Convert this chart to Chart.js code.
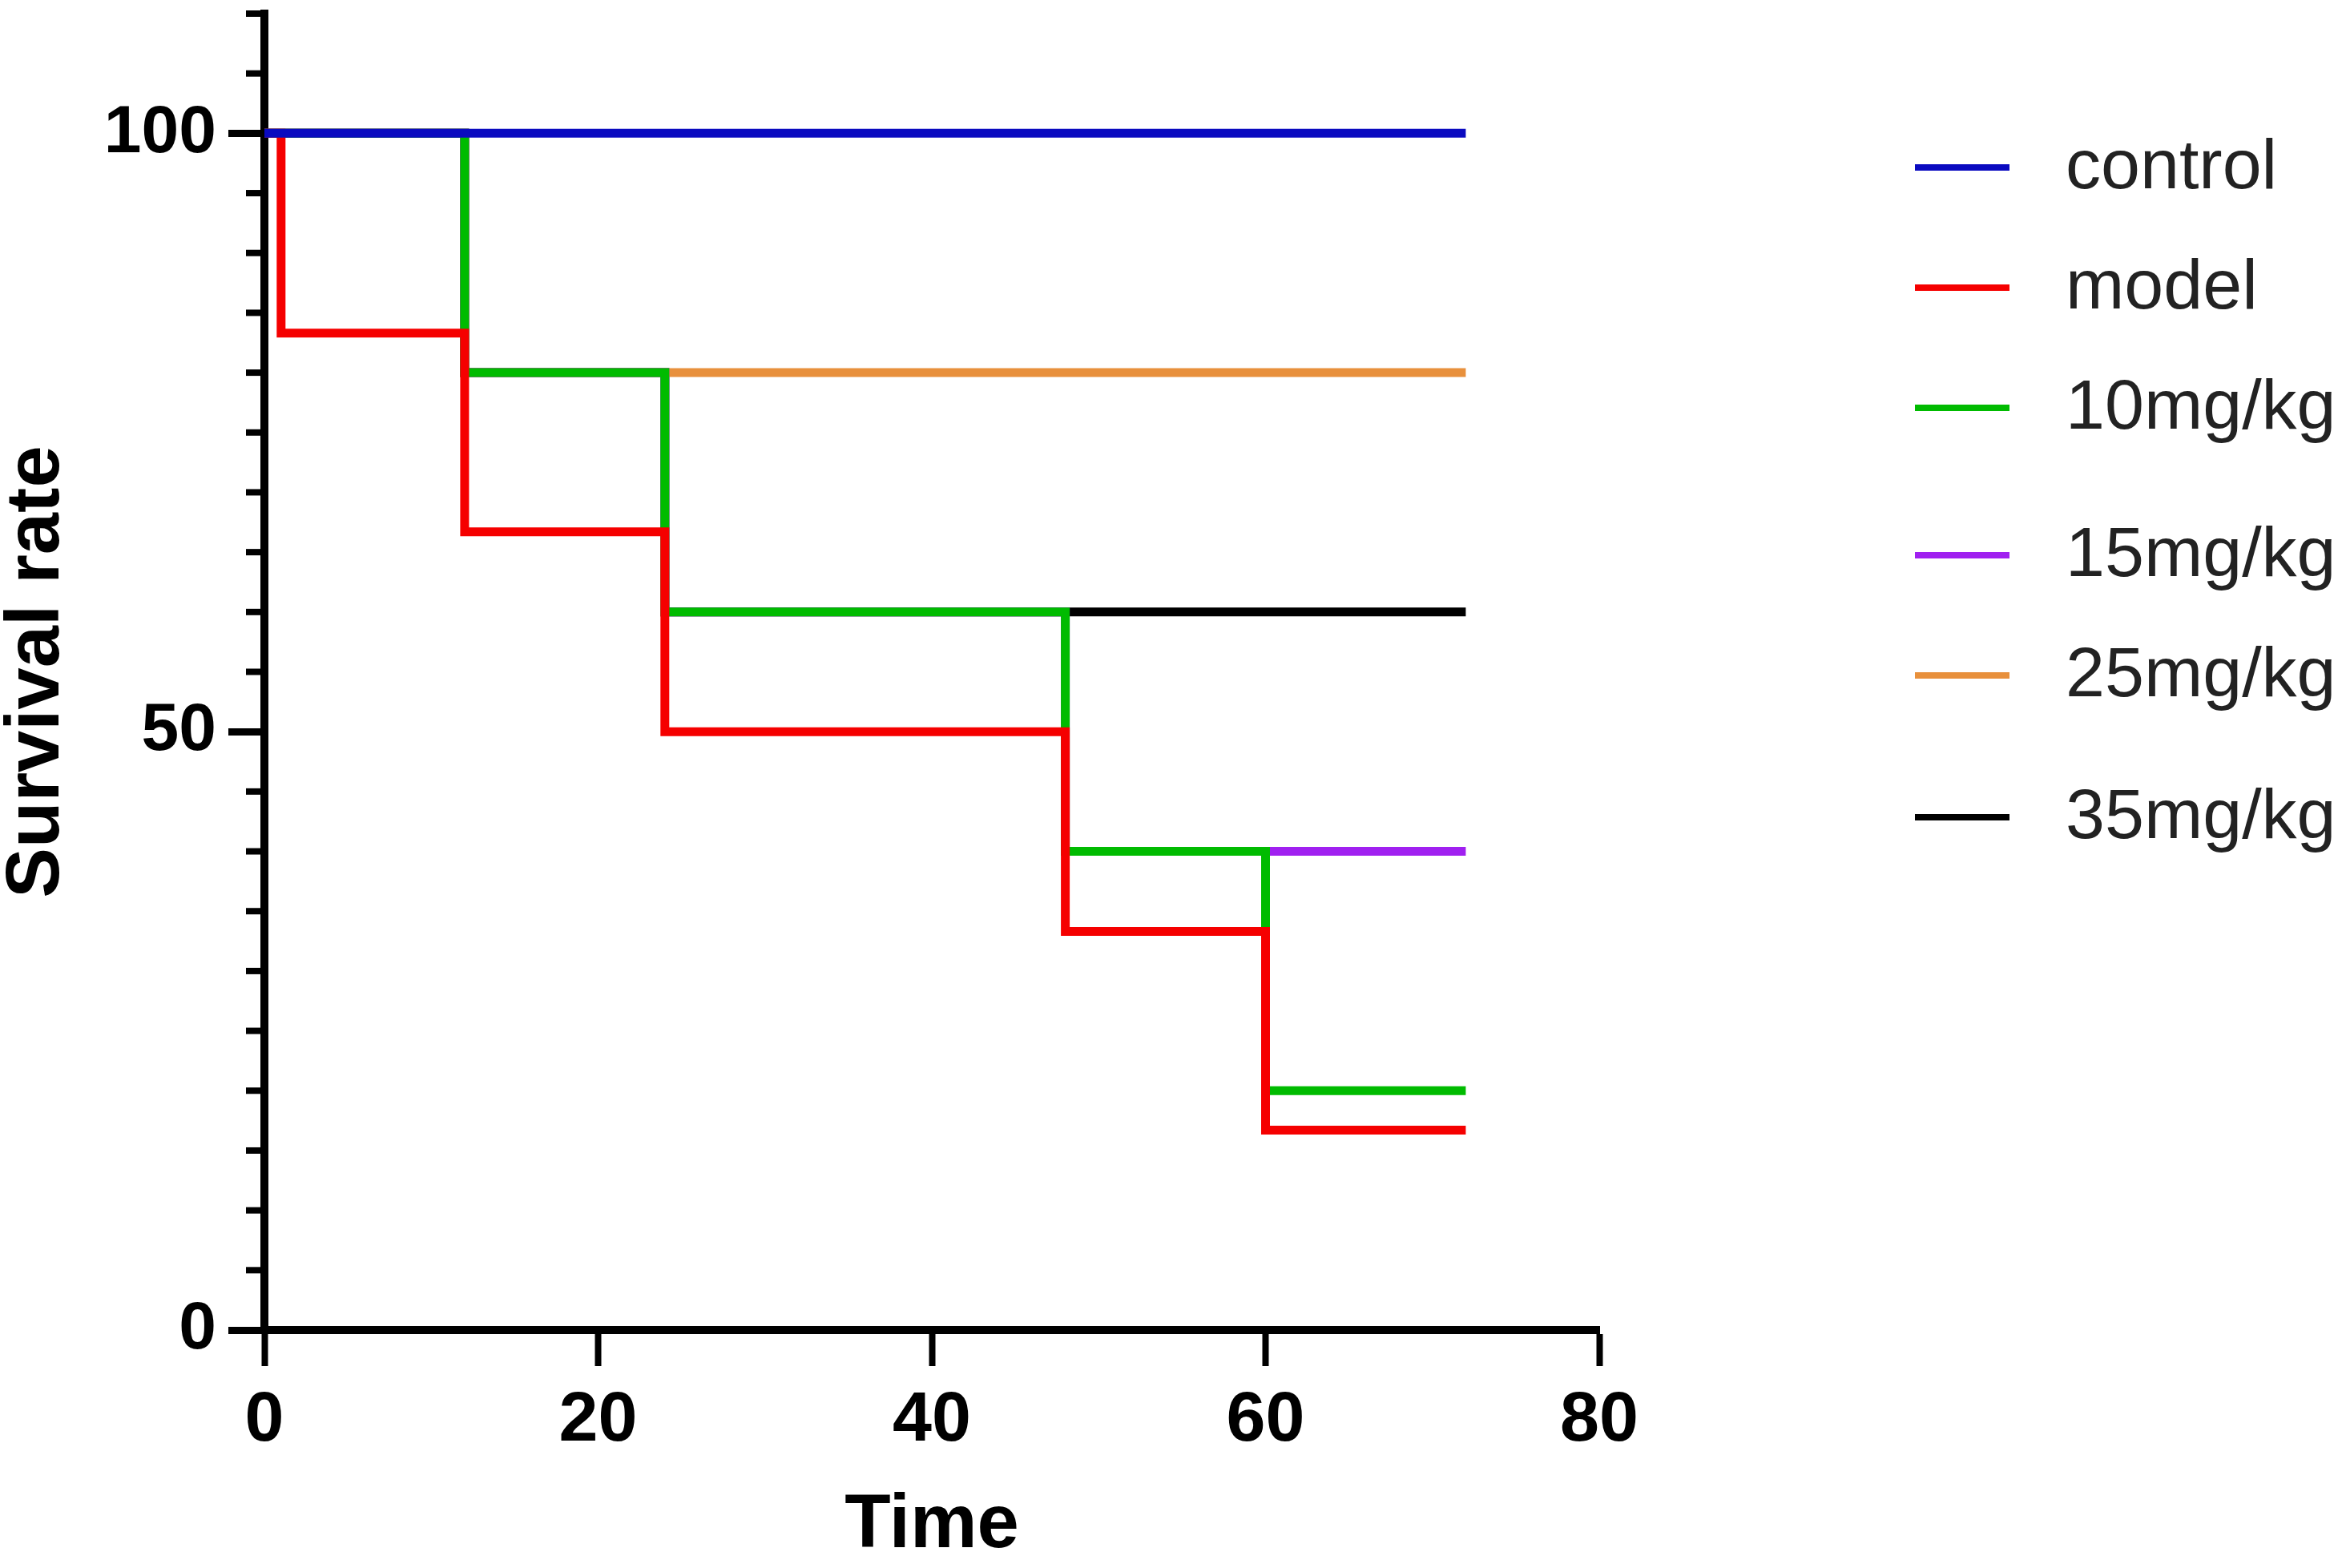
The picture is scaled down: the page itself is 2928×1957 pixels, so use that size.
<!DOCTYPE html>
<html>
<head>
<meta charset="utf-8">
<title>Survival curves</title>
<script src="https://cdn.jsdelivr.net/npm/chart.js@4.4.1/dist/chart.umd.min.js"></script>
<style>
  html, body { margin: 0; padding: 0; background: #fff; }
  canvas { display: block; }
</style>
</head>
<body>
<canvas id="survivalChart" width="2928" height="1957"></canvas>
<script>
// time points (x) where the curves change, survival (%) at each point
const times = [0, 1, 12, 24, 48, 60, 72];
const control = [100, 100, 100, 100, 100, 100, 100];
const model = [100, 83.3, 66.7, 50, 33.3, 16.7, 16.7];
const dose10 = [100, 100, 80, 60, 40, 20, 20];
const dose15 = [100, 100, 80, 60, 40, 40, 40];
const dose25 = [100, 100, 80, 80, 80, 80, 80];
const dose35 = [100, 100, 80, 60, 60, 60, 60];

const groupLabels = ['control', 'model', '10mg/kg', '15mg/kg', '25mg/kg', '35mg/kg'];
const groupValues = [control, model, dose10, dose15, dose25, dose35];
const groupColors = ['#0a0ac0', '#f50000', '#00bb00', '#a020f0', '#e8903c', '#000000'];

const xTicks = [0, 20, 40, 60, 80];
const yTicks = [0, 50, 100];

function toPoints(values) {
  return times.map((t, i) => ({ x: t, y: values[i] }));
}

// short minor ticks on the y axis every 5 units
const minorTicks = {
  id: 'minorTicks',
  afterDraw(chart) {
    const y = chart.scales.y;
    const ctx = chart.ctx;
    ctx.save();
    ctx.strokeStyle = '#000';
    ctx.lineWidth = 8;
    for (let v = 0; v <= 110; v += 5) {
      if (v % 50 === 0) continue;
      const py = y.getPixelForValue(v);
      ctx.beginPath();
      ctx.moveTo(y.right - 23, py);
      ctx.lineTo(y.right, py);
      ctx.stroke();
    }
    ctx.restore();
  }
};

// legend on the right, one row per group
const legendRows = [209, 359, 509, 693, 843, 1020];
const sideLegend = {
  id: 'sideLegend',
  afterDraw(chart) {
    const ctx = chart.ctx;
    ctx.save();
    ctx.font = '88px "Liberation Sans", Arial, sans-serif';
    ctx.textBaseline = 'middle';
    chart.data.datasets.forEach((ds, i) => {
      const rowY = legendRows[i];
      ctx.strokeStyle = ds.borderColor;
      ctx.lineWidth = 8;
      ctx.beginPath();
      ctx.moveTo(2390, rowY);
      ctx.lineTo(2508, rowY);
      ctx.stroke();
      ctx.fillStyle = '#222';
      ctx.fillText(ds.label, 2578, rowY + 2);
    });
    ctx.restore();
  }
};

const ctx = document.getElementById('survivalChart').getContext('2d');
new Chart(ctx, {
  type: 'line',
  data: {
    datasets: groupLabels.map((label, i) => ({
      label: label,
      data: toPoints(groupValues[i]),
      borderColor: groupColors[i],
      backgroundColor: groupColors[i],
      borderWidth: 11,
      pointRadius: 0,
      stepped: 'before',
      fill: false,
      borderCapStyle: 'butt',
      borderJoinStyle: 'miter'
    }))
  },
  options: {
    responsive: false,
    devicePixelRatio: 1,
    animation: false,
    layout: { padding: { top: 17, right: 932, left: 0, bottom: 0 } },
    plugins: {
      legend: { display: false },
      tooltip: { enabled: false }
    },
    scales: {
      x: {
        type: 'linear',
        min: 0,
        max: 80,
        afterBuildTicks: (scale) => { scale.ticks = xTicks.map(v => ({ value: v })); },
        afterFit: (scale) => {
          scale.height = 297;
          scale.paddingLeft = 0;
          scale.paddingRight = 0;
        },
        ticks: {
          color: '#000',
          padding: 16,
          maxRotation: 0,
          font: { family: '"Liberation Sans", Arial, sans-serif', size: 88, weight: 'bold' }
        },
        grid: {
          drawOnChartArea: false,
          drawTicks: true,
          tickLength: 45,
          tickWidth: 8,
          tickColor: '#000'
        },
        border: { display: true, color: '#000', width: 10 },
        title: {
          display: true,
          text: 'Time',
          color: '#000',
          padding: { top: 0, bottom: 5 },
          font: { family: '"Liberation Sans", Arial, sans-serif', size: 94, weight: 'bold', lineHeight: 1 }
        }
      },
      y: {
        type: 'linear',
        min: 0,
        max: 110,
        afterBuildTicks: (scale) => { scale.ticks = yTicks.map(v => ({ value: v })); },
        afterFit: (scale) => {
          scale.width = 330;
          scale.paddingTop = 0;
          scale.paddingBottom = 0;
        },
        ticks: {
          color: '#000',
          padding: 15,
          font: { family: '"Liberation Sans", Arial, sans-serif', size: 84, weight: 'bold' }
        },
        grid: {
          drawOnChartArea: false,
          drawTicks: true,
          tickLength: 45,
          tickWidth: 9,
          tickColor: '#000'
        },
        border: { display: true, color: '#000', width: 10 },
        title: {
          display: true,
          text: 'Survival rate',
          color: '#000',
          padding: 0,
          font: { family: '"Liberation Sans", Arial, sans-serif', size: 94, weight: 'bold', lineHeight: 1 }
        }
      }
    }
  },
  plugins: [minorTicks, sideLegend]
});
</script>
</body>
</html>
